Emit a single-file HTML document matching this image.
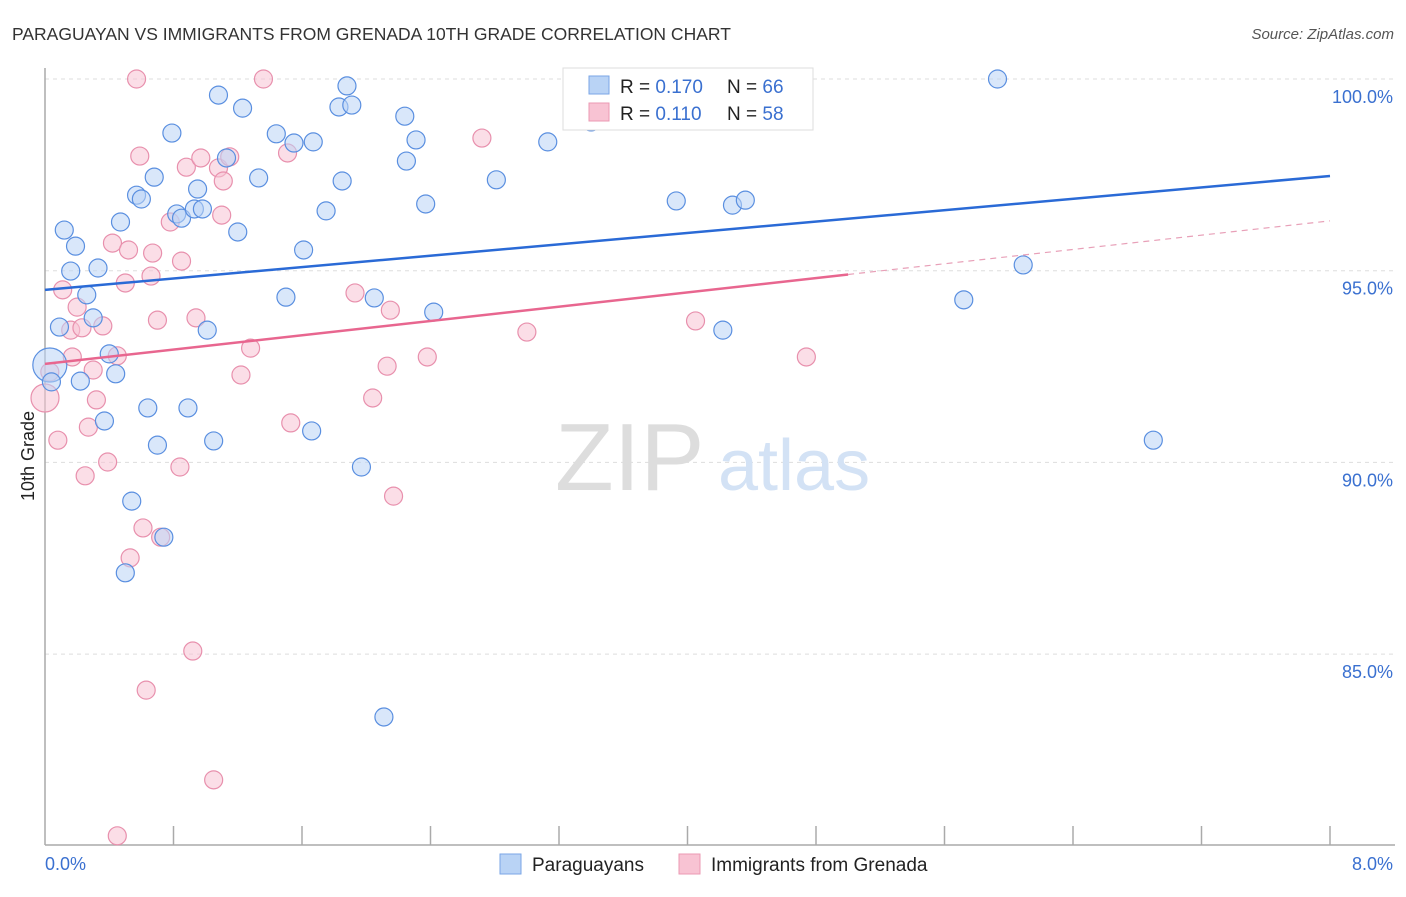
<!DOCTYPE html>
<html><head><meta charset="utf-8"><style>
body{margin:0;background:#fff;font-family:"Liberation Sans",sans-serif;}
svg text{font-family:"Liberation Sans",sans-serif;}
</style></head><body>
<svg id="chart" width="1406" height="892" xmlns="http://www.w3.org/2000/svg">
<text x="12" y="40" font-size="17.5" fill="#333">PARAGUAYAN VS IMMIGRANTS FROM GRENADA 10TH GRADE CORRELATION CHART</text>
<text x="1394" y="39" font-size="15" fill="#555" text-anchor="end" font-style="italic">Source: ZipAtlas.com</text>
<g id="grid"></g>
<text x="555" y="490" font-size="96" fill="#ddd" font-family="Liberation Serif">ZIP</text>
<text x="718" y="490" font-size="72" fill="#d3e2f5">atlas</text>
<g id="axes"></g>
<g id="pts"></g>
<g id="lines"></g>
<text transform="translate(34,456) rotate(-90)" font-size="18" fill="#222" text-anchor="middle">10th Grade</text>
<g>
<rect x="563" y="68" width="250" height="62" fill="#fff" stroke="#ddd"/>
<rect x="589" y="76" width="20" height="18" fill="#b9d3f5" stroke="#7aa6e6"/>
<rect x="589" y="103" width="20" height="18" fill="#f8c3d3" stroke="#eb9ab3"/>
<text x="620" y="93" font-size="19" fill="#222">R = <tspan fill="#3a70d0">0.170</tspan></text>
<text x="727" y="93" font-size="19" fill="#222">N = <tspan fill="#3a70d0">66</tspan></text>
<text x="620" y="120" font-size="19" fill="#222">R =  <tspan fill="#3a70d0">0.110</tspan></text>
<text x="727" y="120" font-size="19" fill="#222">N = <tspan fill="#3a70d0">58</tspan></text>
</g>
<g>
<rect x="500" y="854" width="21" height="20" fill="#b9d3f5" stroke="#7aa6e6"/>
<text x="532" y="871" font-size="19" fill="#222">Paraguayans</text>
<rect x="679" y="854" width="21" height="20" fill="#f8c3d3" stroke="#eb9ab3"/>
<text x="711" y="871" font-size="19" fill="#222">Immigrants from Grenada</text>
</g>
</svg>
<script>
const yTicks=[100,95,90,85];
const yTickLabels=["100.0%","95.0%","90.0%","85.0%"];
const xTickLabels=["0.0%","8.0%"];
const blueX=[0.03,0.04,0.09,0.12,0.16,0.19,0.22,0.26,0.30,0.33,0.37,0.40,0.44,0.47,0.50,0.54,0.57,0.60,0.64,0.68,0.70,0.74,0.79,0.82,0.85,0.89,0.93,0.95,0.98,1.01,1.05,1.08,1.13,1.20,1.23,1.33,1.44,1.50,1.55,1.66,1.67,1.61,1.75,1.83,1.85,1.88,1.91,1.97,2.05,2.11,2.24,2.25,2.31,2.37,2.42,2.81,3.13,3.40,3.93,4.22,4.28,4.36,5.72,5.93,6.09,6.90];
const blueY=[92.54,92.10,93.53,96.06,94.99,95.64,92.12,94.37,93.77,95.07,91.08,92.83,92.31,96.27,87.12,88.99,96.97,96.87,91.42,97.44,90.45,88.05,98.59,96.48,96.37,91.42,96.61,97.13,96.61,93.45,90.56,99.58,97.94,96.01,99.24,97.42,98.57,94.31,98.33,90.82,98.36,95.54,96.56,99.27,97.34,99.82,99.32,89.88,94.29,83.36,99.03,97.86,98.41,96.74,93.92,97.37,98.36,98.88,96.82,93.45,96.71,96.84,94.24,100.0,95.15,90.58];
const pinkX=[0.00,0.03,0.08,0.11,0.16,0.17,0.20,0.23,0.25,0.27,0.30,0.32,0.36,0.39,0.42,0.45,0.50,0.52,0.53,0.57,0.59,0.61,0.63,0.66,0.67,0.70,0.72,0.78,0.84,0.85,0.88,0.92,0.94,0.97,1.05,1.08,1.11,1.15,1.10,1.22,1.28,1.36,1.51,1.53,1.93,2.04,2.13,2.15,2.17,2.38,2.72,3.00,3.39,4.05,4.74,0.45];
const pinkY=[91.68,92.36,90.58,94.50,93.45,92.75,94.05,93.51,89.65,90.92,92.41,91.63,93.56,90.01,95.72,92.78,94.68,95.54,87.51,100.0,97.99,88.29,84.06,94.86,95.46,93.71,88.05,96.27,89.88,95.25,97.70,85.08,93.77,97.94,81.72,97.68,97.34,97.97,96.45,92.28,92.98,100.0,98.07,91.03,94.42,91.68,92.51,93.97,89.12,92.75,98.46,93.40,98.98,93.69,92.75,80.26];
const blueTrend=[94.50,97.47];
const pinkTrend=[92.57,96.30];
const pinkSolidEnd=5.0;
const X0=45,X1=1330,Y100=79,PPY=38.34;
const xs=v=>X0+(v/8)*(X1-X0);
const ys=v=>Y100+(100-v)*PPY;
const NS="http://www.w3.org/2000/svg";
function mk(t,a,p){const e=document.createElementNS(NS,t);for(const k in a)e.setAttribute(k,a[k]);p.appendChild(e);return e;}
const grid=document.getElementById('grid'),axes=document.getElementById('axes'),pts=document.getElementById('pts'),lines=document.getElementById('lines');
yTicks.forEach((t,i)=>{
 const l=mk('line',{x1:X0,x2:1395,y1:ys(t),y2:ys(t),stroke:'#ddd','stroke-dasharray':'4,4'},grid);
 
 
 const tx=mk('text',{x:1393,y:ys(t)+24,'font-size':18,fill:'#3a70d0','text-anchor':'end'},axes);
 tx.textContent=yTickLabels[i];
 
 
});
mk('line',{x1:X0,x2:X0,y1:68,y2:845,stroke:'#aaa','stroke-width':1.5},axes);
mk('line',{x1:X0,x2:1395,y1:845,y2:845,stroke:'#aaa','stroke-width':1.5},axes);
for(let i=1;i<=10;i++){const x=xs(i*0.8);const t=mk('line',{x1:x,x2:x,y1:826,y2:845,stroke:'#aaa','stroke-width':1.5},axes);
 
 }
[[0,45,'start'],[8,1393,'end']].forEach((d,i)=>{const t=mk('text',{x:d[1],y:870,'font-size':18,fill:'#3a70d0','text-anchor':d[2]},axes);t.textContent=xTickLabels[i];
 
 });
function dots(X,Y,fill,stroke,name,bigR){X.forEach((x,i)=>{const c=mk('circle',{cx:xs(x),cy:ys(Y[i]),r:i===0?bigR:9,fill:fill,'fill-opacity':0.55,stroke:stroke,'stroke-width':1.2},pts);
 
 });}
dots(pinkX,pinkY,'#f8c3d3','#e890ad','grenada-point',14);
dots(blueX,blueY,'#b9d3f5','#5a8fe0','paraguayan-point',17);
const bl=mk('line',{x1:xs(0),y1:ys(blueTrend[0]),x2:xs(8),y2:ys(blueTrend[1]),stroke:'#2a6ad6','stroke-width':2.5},lines);


const pm=pinkTrend[0]+(pinkTrend[1]-pinkTrend[0])*pinkSolidEnd/8;
const pl=mk('line',{x1:xs(0),y1:ys(pinkTrend[0]),x2:xs(pinkSolidEnd),y2:ys(pm),stroke:'#e8668f','stroke-width':2.5},lines);


const pd=mk('line',{x1:xs(pinkSolidEnd),y1:ys(pm),x2:xs(8),y2:ys(pinkTrend[1]),stroke:'#e8a0b8','stroke-width':1.2,'stroke-dasharray':'6,5'},lines);


</script>
</body></html>
